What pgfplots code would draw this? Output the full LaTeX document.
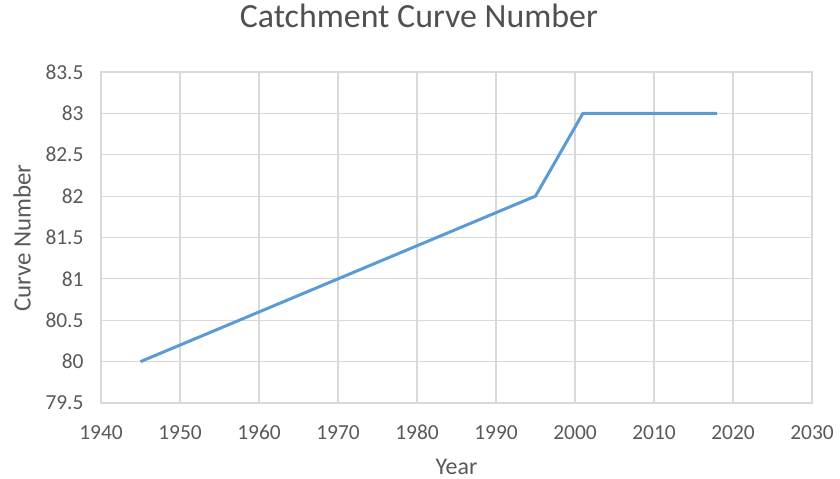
\documentclass[border=0pt]{standalone}
\usepackage{pgfplots}
\pgfplotsset{compat=1.18}
\usepackage{fontspec}
\setmainfont{Carlito}
\definecolor{gridc}{RGB}{217,217,217}
\definecolor{textc}{RGB}{89,89,89}
\definecolor{linec}{RGB}{91,155,213}
\begin{document}
\begin{tikzpicture}[x=1bp,y=1bp]
\useasboundingbox (0,0) rectangle (840,479);
\begin{axis}[
  at={(101bp,76bp)}, anchor=south west,
  scale only axis, width=711bp, height=331bp,
  xmin=1940, xmax=2030, ymin=79.5, ymax=83.5,
  xtick={1940,1950,...,2030}, ytick={79.5,80,...,83.5},
  grid=major, major grid style={draw=gridc, line width=1.1bp},
  axis line style={draw=gridc, line width=1.1bp},
  major tick length=0pt,
  /pgf/number format/assume math mode=true,
  /pgf/number format/1000 sep={},
  /pgf/number format/fixed,
  ticklabel style={font=\fontsize{21.5}{23}\selectfont, text=textc},
  xticklabel style={anchor=center, text height=14bp, text depth=0pt, yshift=-30bp},
  yticklabel style={xshift=-14bp},
  title={Catchment Curve Number},
  title style={font=\fontsize{34}{36}\selectfont, text=textc!90!black, at={(axis description cs:0.447,1.151)}, anchor=center},
  xlabel={Year},
  xlabel style={font=\fontsize{24}{26}\selectfont, text=textc, at={(axis description cs:0.5,-0.193)}, anchor=center},
  ylabel={Curve Number},
  ylabel style={font=\fontsize{25}{27}\selectfont, text=textc, at={(axis description cs:-0.111,0.498)}, anchor=center, rotate=0},
]
\addplot[linec, line width=3bp, line join=round] coordinates {(1945,80) (1995,82) (2001,83) (2018,83)};
\end{axis}
\end{tikzpicture}
\end{document}
